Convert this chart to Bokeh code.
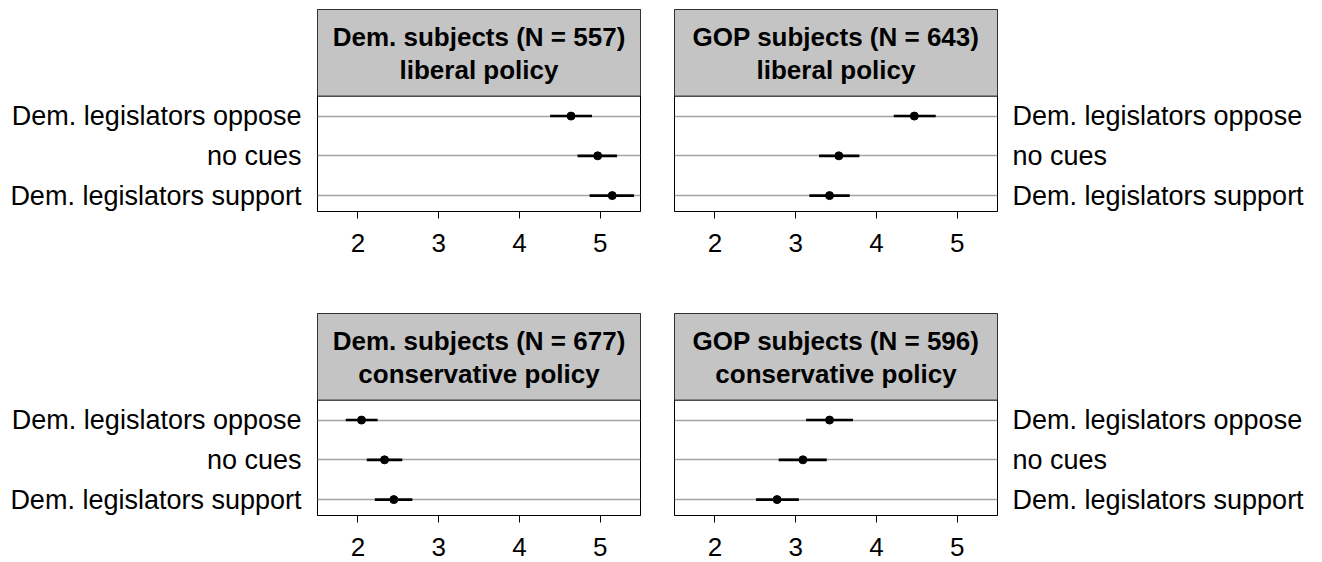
from bokeh.plotting import figure
from bokeh.layouts import column, row
from bokeh.models import (FixedTicker, BoxAnnotation, Span, Label, Range1d,
                          ColumnDataSource)
from bokeh.embed import file_html
from bokeh.resources import INLINE

# ---------------- data ----------------
categories = ["Dem. legislators support", "no cues", "Dem. legislators oppose"]
x_ticks = [2, 3, 4, 5]

titles = [
    ("Dem. subjects (N = 557)", "liberal policy"),
    ("GOP subjects (N = 643)", "liberal policy"),
    ("Dem. subjects (N = 677)", "conservative policy"),
    ("GOP subjects (N = 596)", "conservative policy"),
]

# order follows categories (support, no cues, oppose)
dem_lib_mean = [5.15, 4.97, 4.64]
dem_lib_lo = [4.87, 4.72, 4.38]
dem_lib_hi = [5.42, 5.21, 4.90]

gop_lib_mean = [3.42, 3.535, 4.47]
gop_lib_lo = [3.17, 3.29, 4.215]
gop_lib_hi = [3.67, 3.79, 4.735]

dem_con_mean = [2.445, 2.33, 2.045]
dem_con_lo = [2.21, 2.11, 1.85]
dem_con_hi = [2.675, 2.55, 2.245]

gop_con_mean = [2.77, 3.09, 3.42]
gop_con_lo = [2.51, 2.79, 3.13]
gop_con_hi = [3.04, 3.385, 3.71]

# ---------------- style ----------------
FONT = "Liberation Sans"
TICK_SIZE = "26px"
ROW_LABEL_SIZE = "27px"
HEADER_SIZE = "26px"
STRIP = "#c4c4c4"
ROWLINE = "#a4a4a4"

Y_START, STRIP_Y, Y_END = 0.6, 3.5, 5.68
X_START, X_END = 1.5, 5.5
FRAME_W, FRAME_H = 323, 202


def panel(mean, lo, hi, title, side, top_row):
    ypos = list(range(1, len(categories) + 1))
    if top_row:
        mb_top, mb_bottom = 9, 51
    else:
        mb_top, mb_bottom = 51, 47
    if side == "left":
        mb_left, mb_right = 317, 17
    else:
        mb_left, mb_right = 17, 323
    p = figure(width=mb_left + FRAME_W + mb_right,
               height=mb_top + FRAME_H + mb_bottom,
               x_range=Range1d(X_START, X_END), y_range=Range1d(Y_START, Y_END),
               y_axis_location=side, toolbar_location=None,
               output_backend="svg",
               min_border_left=mb_left, min_border_right=mb_right,
               min_border_top=mb_top, min_border_bottom=mb_bottom)
    p.background_fill_color = "white"
    p.border_fill_color = "white"
    p.outline_line_color = "black"
    p.outline_line_width = 1

    # x axis
    p.xaxis.ticker = FixedTicker(ticks=x_ticks)
    p.xaxis.major_tick_out = 7
    p.xaxis.major_tick_in = 0
    p.xaxis.minor_tick_line_color = None
    p.xaxis.axis_line_color = "black"
    p.xaxis.major_tick_line_color = "black"
    p.xaxis.major_label_text_font = FONT
    p.xaxis.major_label_text_font_size = TICK_SIZE
    p.xaxis.major_label_text_color = "black"
    p.xaxis.major_label_standoff = 15
    p.xgrid.grid_line_color = None

    # y axis (category labels)
    p.yaxis.ticker = FixedTicker(ticks=ypos)
    p.yaxis.major_label_overrides = {i: c for i, c in zip(ypos, categories)}
    p.yaxis.major_tick_line_color = None
    p.yaxis.major_tick_out = 0
    p.yaxis.major_tick_in = 0
    p.yaxis.minor_tick_line_color = None
    p.yaxis.axis_line_color = None
    p.yaxis.major_label_text_font = FONT
    p.yaxis.major_label_text_font_size = ROW_LABEL_SIZE
    p.yaxis.major_label_text_color = "black"
    p.yaxis.major_label_standoff = 16 if side == "left" else 15
    p.ygrid.ticker = FixedTicker(ticks=ypos)
    p.ygrid.grid_line_color = ROWLINE
    p.ygrid.grid_line_width = 1.3

    # strip header
    p.add_layout(BoxAnnotation(bottom=STRIP_Y, fill_color=STRIP, fill_alpha=1,
                               line_color=None, level="underlay"))
    p.add_layout(Span(location=STRIP_Y, dimension="width", line_color="black",
                      line_width=1))
    mid = (X_START + X_END) / 2
    for txt, yy in zip(title, [5.0, 4.16]):
        p.add_layout(Label(x=mid, y=yy, text=txt, text_align="center",
                           text_baseline="middle", text_font=FONT,
                           text_font_size=HEADER_SIZE, text_font_style="bold",
                           text_color="black"))

    src = ColumnDataSource(dict(y=ypos, m=mean, lo=lo, hi=hi))
    p.segment(x0="lo", y0="y", x1="hi", y1="y", source=src,
              line_color="black", line_width=2.6)
    p.scatter(x="m", y="y", source=src, size=8, color="black")
    return p


p1 = panel(dem_lib_mean, dem_lib_lo, dem_lib_hi, titles[0], "left", True)
p2 = panel(gop_lib_mean, gop_lib_lo, gop_lib_hi, titles[1], "right", True)
p3 = panel(dem_con_mean, dem_con_lo, dem_con_hi, titles[2], "left", False)
p4 = panel(gop_con_mean, gop_con_lo, gop_con_hi, titles[3], "right", False)

layout = column(row(p1, p2), row(p3, p4))

open("out.html", "w").write(file_html(layout, INLINE))
